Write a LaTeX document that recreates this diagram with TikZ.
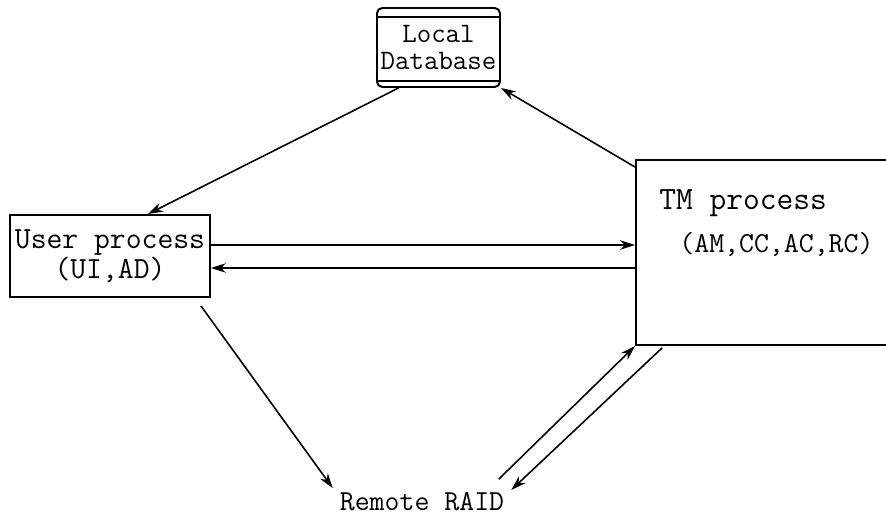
\documentclass[tikz,border=0pt]{standalone}
\usepackage{tikz}
\usetikzlibrary{calc}
\usetikzlibrary{positioning}
\usetikzlibrary{arrows.meta}

\tikzset{
  procbox/.style={draw, line width=1.1pt, align=center, inner sep=0pt},
  dbbox/.style={draw, line width=1.1pt, rounded corners=3pt, align=center, inner sep=0pt,
    minimum width=2.46cm, minimum height=1.58cm},
  ttext/.style={font=\ttfamily\fontsize{17.5}{16}\selectfont},
  link/.style={line width=0.9pt, ->}
}

\begin{document}
\begin{tikzpicture}[>={Stealth[length=3mm,width=1.9mm]}]

\useasboundingbox (0,0) rectangle (17.72,-10.32);
\clip (0,0) rectangle (17.72,-10.32);

% local store on top
\node[dbbox, font=\ttfamily\fontsize{16}{15.5}\selectfont] (db) at (8.77,-0.95) {Local\\Database};
\draw[line width=1.1pt] ($(db.north west)+(0,-0.2)$) -- ($(db.north east)+(0,-0.2)$);
\draw[line width=1.1pt] ($(db.south west)+(0,0.14)$) -- ($(db.south east)+(0,0.14)$);

% the two processes
\node[procbox, ttext, minimum width=4cm, minimum height=1.64cm] (user) at (2.2,-5.12) {User process\\(UI,AD)};
\node[procbox, minimum width=5.08cm, minimum height=3.7cm] (tm) at (15.26,-5.05) {};
\node[font=\ttfamily\fontsize{18.5}{24.5}\selectfont, align=left, inner sep=0pt,
  below right=0.6cm and 0.48cm of tm.north west] (tmtext)
  {TM process\\\hspace{0.4cm}{\fontsize{16.5}{24.5}\selectfont(AM,CC,AC,RC)}};

% disks far away
\node[font=\ttfamily\fontsize{16.5}{16}\selectfont, inner sep=1pt] (raid) at (8.44,-10.04) {Remote RAID};

\draw[link] ([xshift=-0.8cm]db.south) -- ([xshift=0.76cm]user.north);
\draw[link] ([yshift=-0.16cm]tm.north west) -- (db.south east);

\draw[link] ([yshift=0.22cm]user.east) -- ([yshift=0.22cm]user.east -| tm.west);
\draw[link] ([yshift=-0.24cm]user.east -| tm.west) -- ([yshift=-0.24cm]user.east);

\draw[link] ([xshift=-0.2cm,yshift=-0.16cm]user.south east) -- ([xshift=-0.1cm,yshift=0.05cm]raid.north west);
\draw[link] ([xshift=-0.15cm,yshift=0.23cm]raid.north east) -- (tm.south west);
\draw[link] ([xshift=0.54cm,yshift=-0.04cm]tm.south west) -- ([xshift=0.1cm,yshift=0.24cm]raid.east);

\end{tikzpicture}
\end{document}
